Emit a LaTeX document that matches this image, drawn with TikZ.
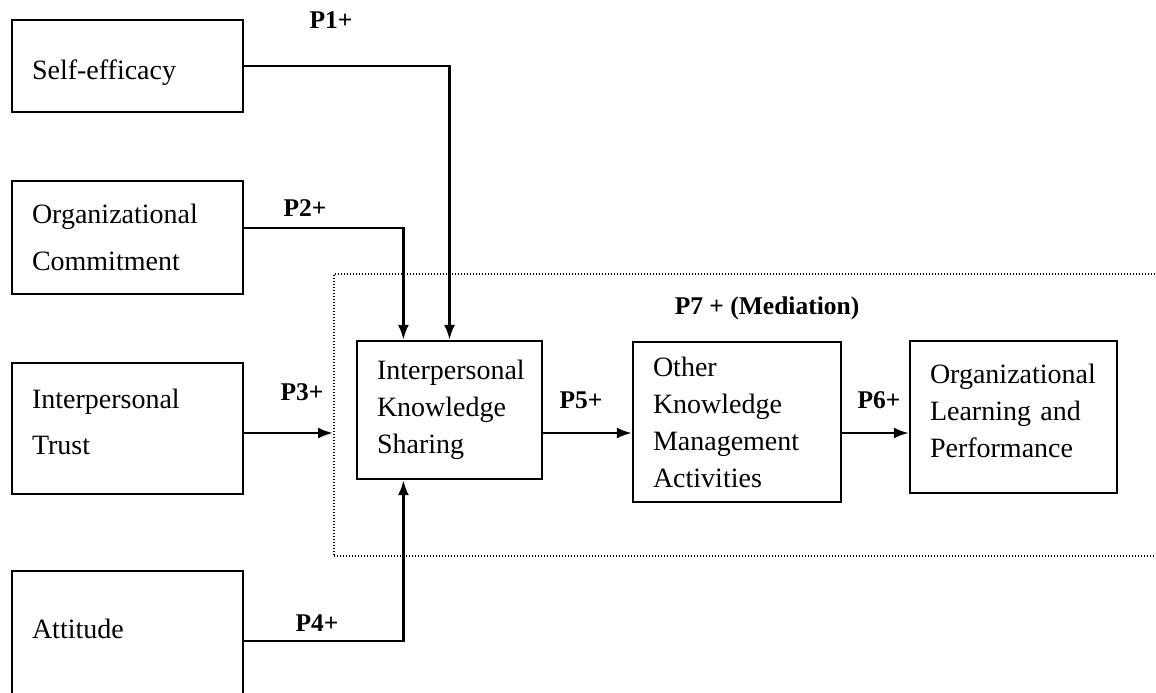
\documentclass[tikz,border=0pt]{standalone}
\usepackage{fontspec}
\setmainfont{Liberation Serif}
\usetikzlibrary{calc,arrows.meta}
\tikzstyle{factor}=[draw,line width=2.4pt,inner xsep=20pt,inner ysep=0pt,align=left,
    font=\fontsize{28}{46.5}\selectfont]
\tikzstyle{stage}=[factor,font=\fontsize{28}{37}\selectfont]
\tikzstyle{link}=[line width=2.4pt,-{Latex[length=15pt,width=11pt]}]
\tikzstyle{plabel}=[font=\bfseries\fontsize{25.5}{30}\selectfont]
\begin{document}
\begin{tikzpicture}[
x=1pt,y=-1pt
]
\useasboundingbox (0,0) rectangle (1156,693);
%mediation frame
\node[draw,line width=1.9pt,dash pattern=on 1.4pt off 1.6pt,inner sep=0pt,
    minimum width=850pt,minimum height=282pt,anchor=north west] (mediation) at (333,273) {};
%antecedents
\node[factor,text width=191pt,minimum height=92pt] (selfeff) at (127.5,66) {\rule{0pt}{34pt}Self-efficacy};
\node[factor,text width=191pt,minimum height=113pt] (commit) at (127.5,237.5) {Organizational\\Commitment};
\node[factor,text width=191pt,minimum height=131pt] (trust) at (127.5,428.5) {Interpersonal\\Trust\rule[-13pt]{0pt}{13pt}};
\node[factor,text width=191pt,minimum height=140pt] (attitude) at (127.5,641) {Attitude\rule[-25pt]{0pt}{25pt}};
%knowledge chain
\node[stage,text width=145pt,minimum height=138pt] (iks) at (449.5,410) {Interpersonal\\Knowledge\\Sharing};
\node[stage,text width=168pt,minimum height=160pt] (okma) at (737,422) {Other\\Knowledge\\Management\\Activities};
\node[stage,text width=167pt,minimum height=152pt] (olp) at (1013.5,417) {Organizational\\Learning and\\Performance\rule[-12pt]{0pt}{12pt}};
\coordinate (axis) at (0,433);
%propositions
\draw[link] (selfeff.east) -| (iks.north);
\draw[link] ($(commit.north east)!0.416!(commit.south east)$) -| ($(iks.north west)!0.254!(iks.north east)$);
\draw[link] (trust.east |- axis) -- (mediation.west |- axis);
\draw[link] (attitude.east) -| ($(iks.south west)!0.254!(iks.south east)$);
\draw[link] (iks.east |- axis) -- (okma.west |- axis);
\draw[link] (okma.east |- axis) -- (olp.west |- axis);
%labels
\node[plabel] (p1) at (331,20) {P1+};
\node[plabel] (p2) at (305,208) {P2+};
\node[plabel] (p3) at (302,392) {P3+};
\node[plabel] (p4) at (317,623) {P4+};
\node[plabel] (p5) at (581,400) {P5+};
\node[plabel] (p6) at (879,400) {P6+};
\node[plabel] (p7) at (767,308) {P7 + (Mediation)};
\end{tikzpicture}
\end{document}
